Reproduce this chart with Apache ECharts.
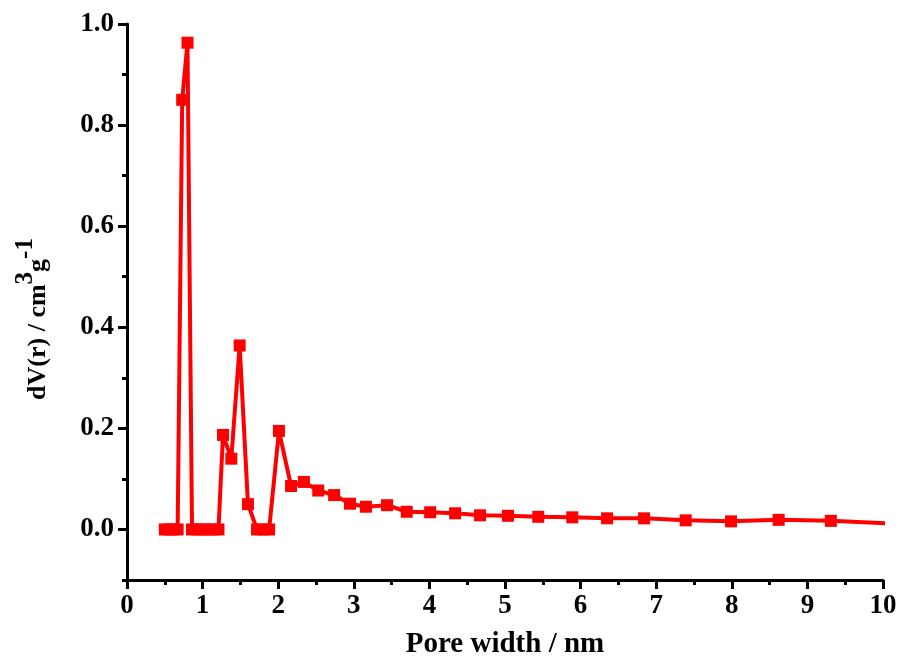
<!DOCTYPE html>
<html><head><meta charset="utf-8">
<script src="https://cdn.jsdelivr.net/npm/echarts@6/dist/echarts.min.js"></script>
<style>html,body{margin:0;padding:0;background:#fff}#c{width:901px;height:664px}</style>
</head><body><div id="c"></div>
<script>
const poreWidth = [0.50,0.55,0.61,0.67,0.73,0.80,0.86,0.93,1.00,1.07,1.14,1.21,1.27,1.38,1.49,1.60,1.72,1.80,1.88,2.01,2.17,2.34,2.53,2.74,2.95,3.16,3.44,3.70,4.01,4.34,4.67,5.04,5.44,5.89,6.35,6.84,7.39,7.99,8.62,9.31,10.07];
const dV = [0,0,0,0,0.850,0.963,0,0,0,0,0,0,0.187,0.140,0.364,0.050,0,0,0,0.195,0.086,0.094,0.077,0.068,0.051,0.045,0.048,0.035,0.034,0.032,0.028,0.027,0.025,0.024,0.022,0.022,0.018,0.016,0.019,0.017,0.012];
const yMajorTicks = [0,0.2,0.4,0.6,0.8,1.0];
const yMinorTicks = [-0.1,0.1,0.3,0.5,0.7,0.9];
const xLabel = 'Pore width / nm';

const font = '"Liberation Serif","Times New Roman",serif';
const chart = echarts.init(document.getElementById('c'));
const axisLineStyle = {color:'#000', width:3};
chart.setOption({
  animation:false,
  grid:{left:127, right:18, top:24, bottom:81, containLabel:false},
  xAxis:{
    type:'value', min:0, max:10, interval:1,
    axisLine:{show:true, onZero:false, lineStyle:axisLineStyle},
    axisTick:{show:true, inside:false, length:9, lineStyle:{color:'#000', width:3}},
    minorTick:{show:true, splitNumber:2, length:5, lineStyle:{color:'#000', width:3}},
    splitLine:{show:false},
    axisLabel:{fontFamily:font, fontWeight:'bold', fontSize:27, color:'#000', margin:13},
    name:xLabel, nameLocation:'middle', nameGap:50,
    nameTextStyle:{fontFamily:font, fontWeight:'bold', fontSize:29, color:'#000'}
  },
  yAxis:[{
    type:'value', min:-0.1, max:1.0, interval:0.1,
    axisLine:{show:true, onZero:false, lineStyle:axisLineStyle},
    axisTick:{show:true, inside:false, length:9, customValues:yMajorTicks, lineStyle:{color:'#000', width:3}},
    splitLine:{show:false},
    axisLabel:{customValues:yMajorTicks, fontFamily:font, fontWeight:'bold', fontSize:27, color:'#000', margin:13,
      formatter:v=>v.toFixed(1)},
    name:'{n|dV(r) / cm}{s|3}{n|g}{s|-1}', nameLocation:'middle', nameGap:76, nameRotate:90,
    nameTextStyle:{padding:[0,34,0,0], rich:{
      n:{fontFamily:font, fontWeight:'bold', fontSize:26, color:'#000', verticalAlign:'bottom', lineHeight:28},
      s:{fontFamily:font, fontWeight:'bold', fontSize:25, color:'#000', verticalAlign:'bottom', lineHeight:28, padding:[0,0,13,0]}
    }}
  },{
    type:'value', min:-0.1, max:1.0, interval:0.1, position:'left',
    axisLine:{show:false},
    axisTick:{show:true, inside:false, length:5, customValues:yMinorTicks, lineStyle:{color:'#000', width:3}},
    axisLabel:{show:false}, splitLine:{show:false}
  }],
  series:[{
    type:'line', data:poreWidth.map((x,i)=>[x,dV[i]]),
    clip:true,
    symbol:'rect', symbolSize:12,
    itemStyle:{color:'#ff0000'},
    lineStyle:{color:'#ff0000', width:4}
  }]
});
</script></body></html>
